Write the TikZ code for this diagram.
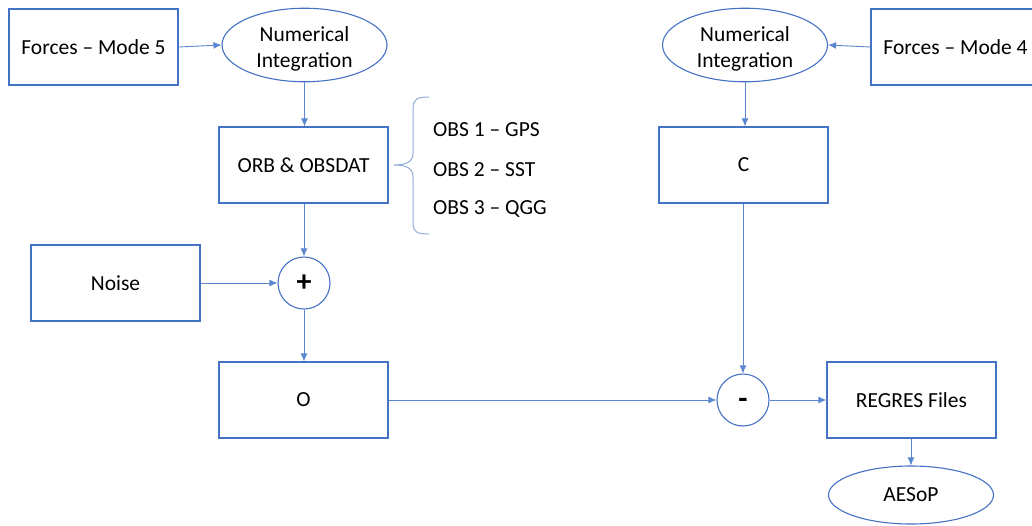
\documentclass[tikz,border=0pt]{standalone}
\usepackage{fontspec}
\setmainfont{Carlito}
\usetikzlibrary{shapes.geometric,arrows.meta}
\definecolor{boxblue}{HTML}{4472C4}
\definecolor{lineblue}{HTML}{5B87D0}
\definecolor{braceblue}{HTML}{8FAADC}
\newcommand{\twoline}[2]{\raisebox{-4pt}[\height][\depth]{\begin{tabular}{@{}c@{}}#1\\#2\end{tabular}}}
\begin{document}
\begin{tikzpicture}[x=1pt,y=-1pt,
  every node/.style={font=\fontsize{21.5}{26}\selectfont, text=black},
  blk/.style={draw=boxblue, line width=1.3pt, minimum width=169pt, minimum height=76pt, inner sep=0pt},
  oval/.style={ellipse, draw=boxblue, line width=1.1pt, minimum width=165pt, minimum height=66pt, inner sep=0pt, align=center},
  sumnode/.style={circle, draw=boxblue, line width=1.1pt, minimum size=52pt, inner sep=0pt, font=\fontsize{30}{30}\selectfont\bfseries},
  conn/.style={draw=lineblue, line width=0.9pt, -{Latex[length=8pt,width=7pt]}},
  obs/.style={anchor=west, inner sep=0pt}
]
\useasboundingbox (0,0) rectangle (1032,525);
\fill[white] (0,0) rectangle (1032,525);

\node[blk] (f5) at (93.5,47) {Forces – Mode 5};
\node[oval] (ni1) at (304.5,45) {\twoline{Numerical}{Integration}};
\node[oval] (ni2) at (745,45) {\twoline{Numerical}{Integration}};
\node[blk] (f4) at (955.5,47) {Forces – Mode 4};

\node[blk] (orb) at (303.5,165) {ORB \& OBSDAT};
\node[blk] (c) at (743.5,165) {C};

\node[obs] (o1) at (433,130) {OBS 1 – GPS};
\node[obs] (o2) at (433,170) {OBS 2 – SST};
\node[obs] (o3) at (433,209) {OBS 3 – QGG};

\node[blk] (noise) at (115.5,283) {Noise};
\node[sumnode] (plus) at (304,283) {+};

\node[blk] (o) at (303.5,400) {O};
\node[sumnode] (minus) at (743,400) {\raisebox{-3pt}[\height][\depth]{-}};
\node[blk] (reg) at (911.5,400) {REGRES Files};
\node[oval, minimum height=58pt] (aes) at (911,495) {AESoP};

% brace
\draw[braceblue, line width=1pt]
  (429,97) .. controls (417,97) and (413,99) .. (413,109) -- (413,153)
  .. controls (413,162) and (406,165) .. (394,165)
  .. controls (406,165) and (413,168) .. (413,177) -- (413,223)
  .. controls (413,232) and (417,234) .. (429,234);

% connectors
\draw[conn] (f5.east) -- (ni1.west);
\draw[conn] (f4.west) -- (ni2.east);
\draw[conn] (ni1.south) -- (ni1.south |- orb.north);
\draw[conn] (ni2.south) -- (ni2.south |- c.north);
\draw[conn] (orb.south -| plus.north) -- (plus.north);
\draw[conn] (noise.east) -- (plus.west);
\draw[conn] (plus.south) -- (plus.south |- o.north);
\draw[conn] (o.east) -- (minus.west);
\draw[conn] (c.south -| minus.north) -- (minus.north);
\draw[conn] (minus.east) -- (reg.west);
\draw[conn] (reg.south -| aes.north) -- (aes.north);
\end{tikzpicture}
\end{document}
